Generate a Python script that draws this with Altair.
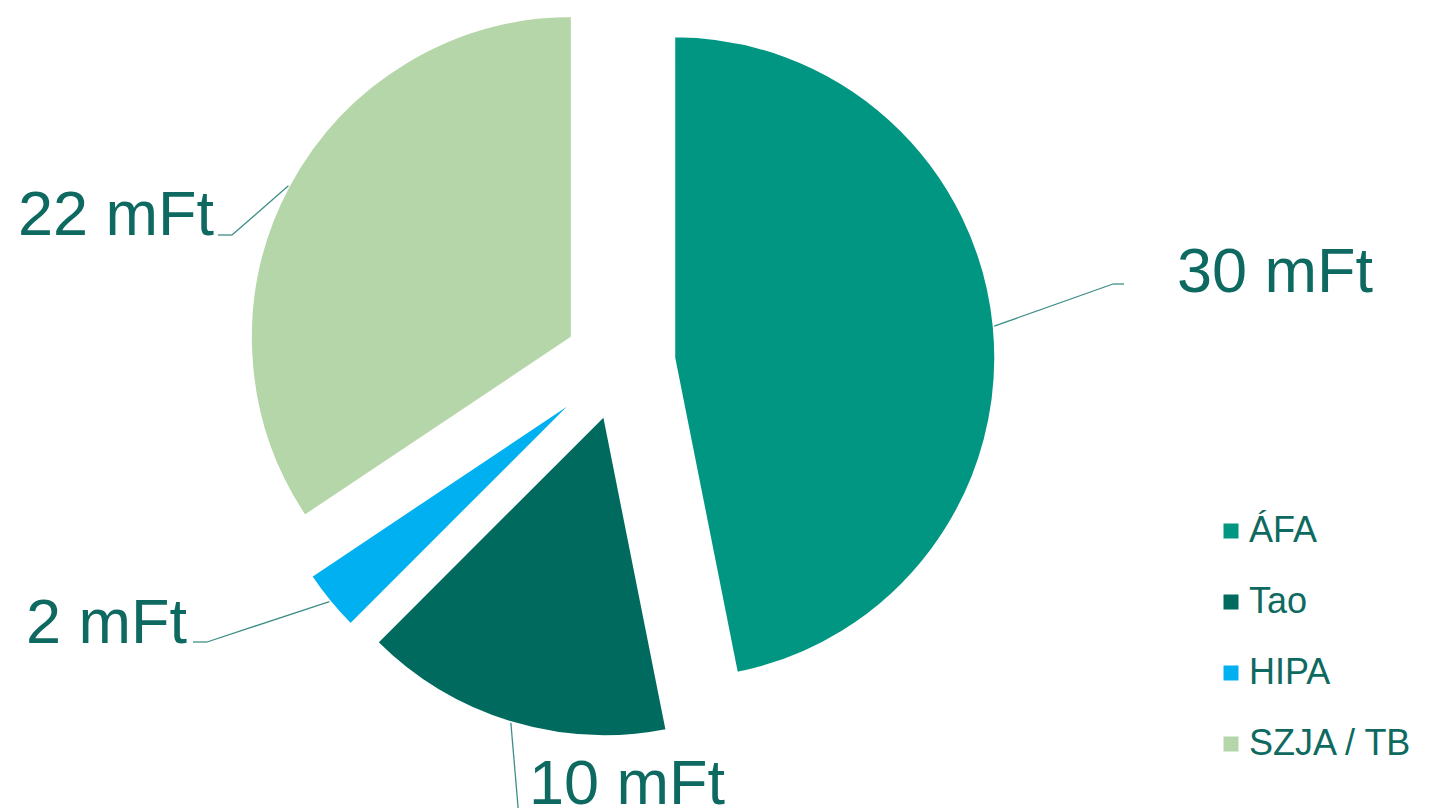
import math
import altair as alt
import pandas as pd

# ---- data ----
categories = ["ÁFA", "Tao", "HIPA", "SZJA / TB"]
values = [30, 10, 2, 22]
unit = "mFt"
colors = ["#009681", "#006A5F", "#00B0F0", "#B5D6A9"]

# ---- layout / style (not data) ----
TEXT = "#0E6A61"
LINE = "#3E8E87"
FONT = "Liberation Sans, Arial, sans-serif"
W, H = 1417, 800
CX, CY = 612, 355        # pie centre (pixels)
R = 322                  # pie radius
EXPLODE = 54             # explosion distance of each slice
# manual label placement (as in the original): elbow of leader, end of short
# horizontal tick, text anchor and alignment
label_layout = {
    "ÁFA":       dict(ex=1105, ey=276, hx=1116, tx=1169, ty=284, align="left"),
    "Tao":       dict(ex=511,  ey=810, hx=511,  tx=521,  ty=796, align="left"),
    "HIPA":      dict(ex=199,  ey=634, hx=185,  tx=179,  ty=635, align="right"),
    "SZJA / TB": dict(ex=224,  ey=227, hx=210,  tx=206,  ty=227, align="right"),
}

total = sum(values)
rows = []
for i, (c, v) in enumerate(zip(categories, values)):
    d = dict(order=i, category=c, value=v, label=f"{v} {unit}")
    d.update(label_layout[c])
    rows.append(d)
df = pd.DataFrame(rows)

base = (
    alt.Chart(df)
    .transform_window(cum="sum(value)", sort=[alt.SortField("order")], frame=[None, 0])
    .transform_calculate(start="datum.cum - datum.value")
    .transform_calculate(mid=f"(datum.start + datum.value / 2) / {total} * 2 * PI")
    .transform_calculate(
        cx=f"{CX} + {EXPLODE} * sin(datum.mid)",
        cy=f"{CY} - {EXPLODE} * cos(datum.mid)",
    )
    .transform_calculate(
        sx=f"datum.cx + {R} * sin(datum.mid)",
        sy=f"datum.cy - {R} * cos(datum.mid)",
    )
)

theta_scale = alt.Scale(domain=[0, total], range=[0, 2 * math.pi], nice=False, zero=True)

pie = base.mark_arc(outerRadius=R, stroke="white", strokeWidth=3).encode(
    theta=alt.Theta("start:Q", scale=theta_scale),
    theta2=alt.Theta2("cum:Q"),
    x=alt.X("cx:Q", scale=None),
    y=alt.Y("cy:Q", scale=None),
    color=alt.Color(
        "category:N",
        scale=alt.Scale(domain=categories, range=colors),
        sort=categories,
        legend=alt.Legend(
            orient="none",
            legendX=1205,
            legendY=505,
            title=None,
            symbolType="square",
            symbolSize=225,
            symbolStrokeWidth=0,
            symbolOpacity=1,
            labelFontSize=36,
            labelFont=FONT,
            labelColor=TEXT,
            labelOffset=0,
            rowPadding=35,
            padding=0,
            labelLimit=400,
        ),
    ),
    order=alt.Order("order:Q"),
)

leader = base.mark_rule(color=LINE, strokeWidth=1.3).encode(
    x=alt.X("sx:Q", scale=None),
    y=alt.Y("sy:Q", scale=None),
    x2=alt.X2("ex:Q"),
    y2=alt.Y2("ey:Q"),
)
tick = base.mark_rule(color=LINE, strokeWidth=1.3).encode(
    x=alt.X("ex:Q", scale=None),
    y=alt.Y("ey:Q", scale=None),
    x2=alt.X2("hx:Q"),
    y2=alt.Y2("ey:Q"),
)

text_left = base.transform_filter("datum.align == 'left'").mark_text(
    font=FONT, fontSize=63, color=TEXT, align="left", baseline="alphabetic"
).encode(x=alt.X("tx:Q", scale=None), y=alt.Y("ty:Q", scale=None), text="label:N")
text_right = base.transform_filter("datum.align == 'right'").mark_text(
    font=FONT, fontSize=63, color=TEXT, align="right", baseline="alphabetic"
).encode(x=alt.X("tx:Q", scale=None), y=alt.Y("ty:Q", scale=None), text="label:N")

chart = (
    alt.layer(pie, leader, tick, text_left, text_right)
    .properties(width=W, height=H, padding=0, autosize=alt.AutoSizeParams(type="none"))
    .configure(background="white")
    .configure_view(stroke=None)
)

chart.save("out.html", embed_options={"renderer": "svg", "actions": False})
